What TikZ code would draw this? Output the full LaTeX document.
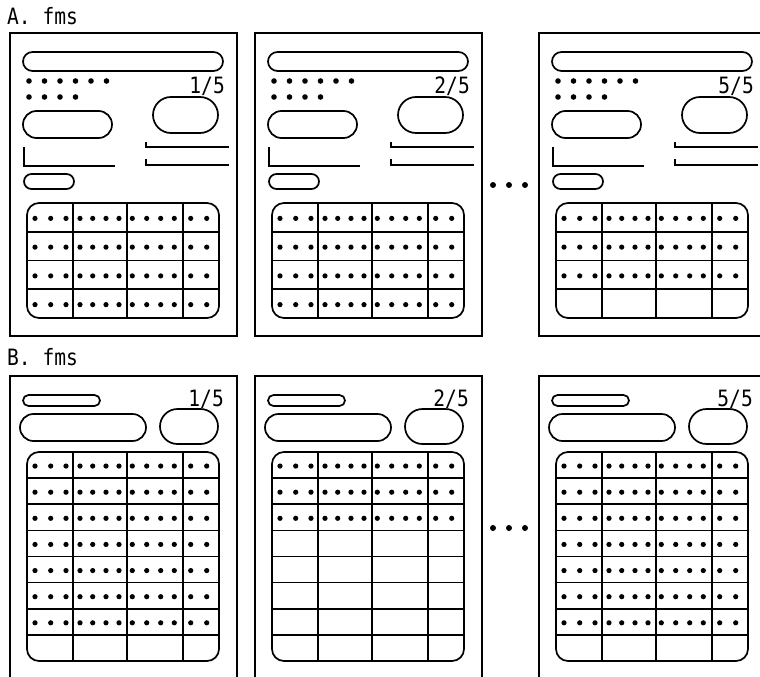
\documentclass[tikz,border=0pt]{standalone}
\usepackage{fontspec}
\newfontfamily\labfont[FakeStretch=0.87]{DejaVu Sans Mono}
\newcommand\tablegrid[4]{%
  \pgfmathsetmacro\rh{(#2-#1)/#3}%
  \pgfmathtruncatemacro\nr{#3-1}%
  \draw[outl,rounded corners=12pt] (17,#1) rectangle (209,#2);
  \foreach \cx in {63,117,173} \draw[outl] (\cx,#1) -- (\cx,#2);
  \foreach \i in {1,...,\nr} \draw[outl] (17,{#1+\i*\rh}) -- (209,{#1+\i*\rh});
  \foreach \r in {1,...,#4}
    \foreach \x in {25,40.7,56,70,82.7,96,109,122.3,136.7,150.7,164.3,180.7,196.7}
      \fill (\x,{#1+(\r-0.5)*\rh+1}) circle[radius=2.6pt];
}
\newcommand\panA[3]{%
  \begin{scope}[shift={(#1,33)}]
    \draw[frame] (0,0) rectangle (227,303);
    \draw[outl,rounded corners=9.5pt] (13,19) rectangle (213,38);
    \foreach \x in {19,34.5,50,65.5,81,96.5} \fill (\x,48) circle[radius=2.8pt];
    \foreach \x in {19,34.5,50,65.5} \fill (\x,64) circle[radius=2.8pt];
    \node[lab,anchor=base east] at (215,60) {#2};
    \draw[outl,rounded corners=18pt] (143,64) rectangle (208,100);
    \draw[outl,rounded corners=13.5pt] (13,78) rectangle (102,105);
    \draw[outl] (14,114) -- (14,133) -- (105,133);
    \draw[outl] (136,109) -- (136,114) -- (219,114);
    \draw[outl] (136,126) -- (136,132) -- (219,132);
    \draw[outl,rounded corners=7.5pt] (14,141) rectangle (64,156);
    \tablegrid{170}{285}{4}{#3}
  \end{scope}}
\newcommand\panB[3]{%
  \begin{scope}[shift={(#1,376)}]
    \draw[frame] (0,0) rectangle (227,303);
    \draw[outl,rounded corners=5.5pt] (13,19) rectangle (90,30);
    \node[lab,anchor=base east] at (214,30) {#2};
    \draw[outl,rounded corners=13.5pt] (10,38) rectangle (136,65);
    \draw[outl,rounded corners=17.5pt] (150,33) rectangle (208,68);
    \tablegrid{76}{285}{8}{#3}
  \end{scope}}
\begin{document}
\begin{tikzpicture}[x=1pt,y=-1pt,
  frame/.style={line width=2pt},
  outl/.style={line width=1.7pt},
  lab/.style={font=\labfont\fontsize{22.5}{24}\selectfont, inner sep=0pt}]
  \useasboundingbox[fill=white] (0,0) rectangle (760,677);
  \node[lab,anchor=base west] (la) at (7,25) {A. fms};
  \node[lab,anchor=base west] (lb) at (7,365) {B. fms};
  \panA{10}{1/5}{4}
  \panA{255}{2/5}{4}
  \panA{539}{5/5}{3}
  \panB{10}{1/5}{7}
  \panB{255}{2/5}{3}
  \panB{539}{5/5}{7}
  \foreach \x in {493,509,525} {
    \fill (\x,185) circle[radius=3pt];
    \fill (\x,528) circle[radius=3pt];
  }
\end{tikzpicture}
\end{document}
